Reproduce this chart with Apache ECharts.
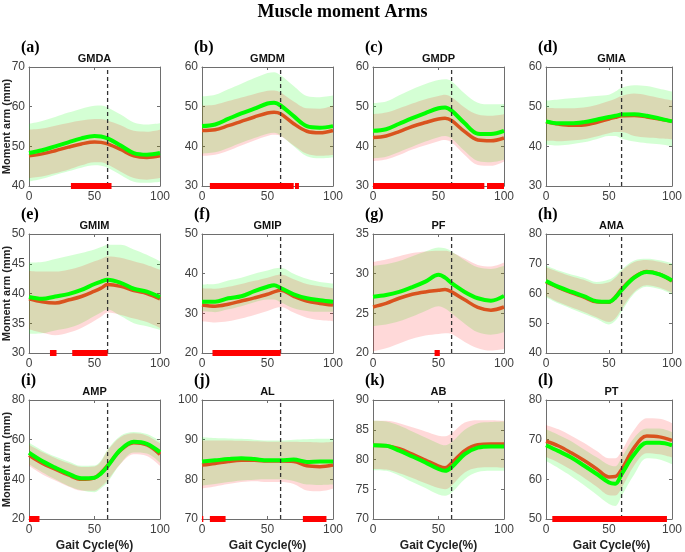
<!DOCTYPE html>
<html><head><meta charset="utf-8">
<script src="https://cdn.jsdelivr.net/npm/echarts@6/dist/echarts.min.js"></script>
<style>html,body{margin:0;padding:0;background:#fff}#c{width:685px;height:552px}</style>
</head><body><div id="c"></div>
<script>
// ---------------- DATA ----------------
const mainTitle = 'Muscle moment Arms';
const xs = [0, 10, 20, 30, 40, 50, 55, 60, 70, 80, 90, 100];
const panelTitles = ['GMDA','GMDM','GMDP','GMIA','GMIM','GMIP','PF','AMA','AMP','AL','AB','PT'];
const panelLabels = ['(a)','(b)','(c)','(d)','(e)','(f)','(g)','(h)','(i)','(j)','(k)','(l)'];
const yMin  = [40, 30, 30, 30, 30, 20, 20, 40, 20, 70, 70, 50];
const yMax  = [70, 60, 60, 60, 50, 50, 35, 80, 80, 100, 90, 80];
const yStep = [10, 10, 10, 10, 5, 10, 5, 10, 20, 10, 5, 10];
const stanceEnd = 60;

const greenMean = [
  [48.3, 49.0, 50.0, 51.0, 52.0, 52.6, 52.5, 52.0, 50.2, 48.3, 47.9, 48.3],
  [45.1, 45.5, 46.9, 48.3, 49.5, 50.8, 51.0, 50.3, 47.6, 45.1, 44.7, 45.1],
  [43.9, 44.3, 45.7, 47.1, 48.4, 49.6, 49.8, 49.0, 45.8, 43.2, 43.1, 43.9],
  [46.3, 45.8, 45.8, 46.1, 46.7, 47.4, 47.7, 48.0, 48.1, 47.7, 47.0, 46.3],
  [39.4, 39.1, 39.5, 39.9, 40.6, 41.6, 42.0, 42.3, 41.8, 40.8, 40.3, 39.4],
  [32.9, 32.9, 33.8, 34.3, 35.6, 36.7, 37.1, 36.4, 34.8, 33.8, 33.3, 32.9],
  [27.1, 27.3, 27.7, 28.3, 29.0, 29.85, 29.5, 28.8, 27.7, 26.9, 26.6, 27.2],
  [64.2, 62.2, 60.6, 59.1, 57.4, 57.2, 58.6, 61.1, 65.3, 67.2, 66.4, 64.4],
  [53.4, 49.2, 45.9, 42.9, 40.5, 40.8, 43.0, 46.6, 55.0, 58.9, 57.9, 53.7],
  [84.5, 84.8, 85.1, 85.3, 85.1, 84.8, 84.8, 84.8, 85.0, 84.4, 84.5, 84.5],
  [82.4, 82.3, 81.5, 80.5, 79.5, 78.4, 78.1, 78.7, 80.9, 82.0, 82.2, 82.2],
  [68.6, 67.1, 65.5, 63.5, 61.4, 59.2, 58.9, 61.3, 66.3, 69.2, 69.2, 68.6]
];
const redMean = [
  [47.6, 48.1, 48.9, 49.8, 50.6, 51.1, 51.0, 50.6, 49.2, 47.6, 47.2, 47.6],
  [44.0, 44.2, 45.2, 46.3, 47.4, 48.4, 48.6, 48.2, 45.7, 43.8, 43.4, 44.0],
  [42.2, 42.6, 43.7, 45.0, 46.0, 46.9, 47.1, 46.5, 43.7, 41.6, 41.4, 42.1],
  [46.2, 45.6, 45.3, 45.4, 46.0, 46.9, 47.3, 47.7, 47.8, 47.4, 46.9, 46.3],
  [39.1, 38.6, 38.4, 38.9, 39.5, 40.4, 40.9, 41.5, 41.2, 40.5, 40.0, 39.1],
  [32.1, 31.8, 32.3, 33.1, 33.9, 34.8, 35.4, 35.8, 34.3, 33.1, 32.5, 32.1],
  [25.8, 26.25, 26.9, 27.4, 27.7, 27.9, 28.0, 27.7, 26.7, 25.75, 25.4, 25.8],
  [63.9, 62.0, 60.3, 58.8, 57.2, 57.1, 58.8, 61.5, 65.5, 67.4, 66.5, 64.2],
  [52.1, 48.1, 45.1, 42.2, 40.0, 40.8, 43.3, 47.0, 54.7, 58.4, 57.3, 52.6],
  [83.6, 84.0, 84.5, 84.8, 84.8, 84.6, 84.6, 84.6, 84.5, 83.4, 83.2, 83.6],
  [82.4, 82.3, 81.8, 80.9, 79.9, 78.9, 78.6, 79.4, 81.5, 82.5, 82.6, 82.6],
  [69.6, 68.4, 66.7, 64.8, 62.7, 60.6, 60.7, 62.5, 68.0, 70.9, 70.7, 69.8]
];
const greenHi = [
  [55.7, 56.4, 57.4, 58.5, 59.5, 60.2, 60.3, 59.8, 58.0, 56.0, 55.5, 55.8],
  [52.6, 53.0, 54.4, 55.8, 57.2, 58.5, 58.7, 57.9, 55.2, 52.7, 52.4, 52.8],
  [50.9, 51.3, 52.9, 54.4, 55.7, 56.7, 56.9, 56.4, 53.3, 51.0, 50.6, 50.7],
  [51.5, 51.8, 52.1, 52.4, 52.7, 53.0, 53.8, 54.8, 55.4, 55.2, 54.5, 53.8],
  [45.2, 45.3, 45.8, 46.3, 46.8, 47.4, 47.8, 48.2, 48.2, 47.4, 46.5, 45.4],
  [37.3, 37.4, 38.3, 39.0, 40.0, 40.8, 41.3, 41.5, 40.0, 38.7, 37.9, 37.5],
  [31.0, 31.2, 31.6, 32.2, 32.8, 33.3, 33.2, 32.8, 31.7, 30.8, 30.6, 31.0],
  [69.4, 67.7, 66.4, 65.3, 63.9, 64.7, 66.0, 68.1, 71.1, 71.7, 71.2, 70.2],
  [58.4, 54.6, 51.5, 49.0, 46.8, 47.0, 49.5, 55.0, 62.0, 63.9, 62.8, 59.3],
  [90.6, 90.4, 90.3, 90.2, 90.0, 89.8, 89.8, 89.8, 90.0, 90.1, 90.2, 90.2],
  [86.5, 86.4, 85.7, 84.7, 83.7, 82.7, 82.4, 82.9, 85.0, 86.1, 86.3, 86.4],
  [72.6, 71.2, 69.6, 67.6, 65.6, 63.6, 63.3, 65.5, 70.5, 72.8, 72.8, 71.9]
];
const greenLo = [
  [41.1, 41.8, 42.8, 43.7, 44.6, 45.2, 45.1, 44.6, 42.8, 41.1, 40.8, 41.1],
  [38.2, 38.5, 39.6, 40.9, 42.1, 43.2, 43.4, 42.7, 40.0, 37.5, 37.0, 37.2],
  [37.0, 37.4, 38.6, 39.9, 41.2, 42.3, 42.6, 42.0, 38.8, 36.3, 36.0, 36.6],
  [40.4, 40.2, 40.5, 41.0, 41.8, 42.6, 42.6, 42.0, 41.2, 40.8, 40.5, 40.0],
  [33.2, 33.3, 33.8, 34.2, 35.0, 36.2, 36.8, 37.3, 36.2, 35.0, 34.5, 33.9],
  [30.5, 30.3, 31.0, 31.8, 32.8, 33.5, 33.5, 32.8, 31.3, 30.6, 30.4, 30.4],
  [23.4, 23.6, 24.0, 24.6, 25.3, 25.9, 25.6, 25.0, 23.7, 22.6, 22.3, 22.6],
  [58.7, 56.6, 54.9, 53.2, 51.5, 49.6, 50.8, 53.9, 60.0, 62.3, 61.5, 59.8],
  [47.6, 43.6, 40.0, 36.7, 34.5, 33.5, 35.5, 38.5, 48.0, 53.5, 53.0, 48.3],
  [78.4, 78.8, 79.3, 79.7, 79.9, 80.0, 80.0, 80.0, 79.6, 78.7, 78.6, 78.7],
  [78.2, 78.1, 77.3, 76.2, 75.2, 74.1, 73.9, 74.4, 76.7, 77.9, 78.1, 78.1],
  [64.6, 62.8, 60.8, 58.6, 56.2, 53.8, 53.3, 55.8, 61.2, 65.3, 65.0, 63.8]
];
const redHi = [
  [54.2, 54.5, 55.2, 55.9, 56.5, 56.9, 56.9, 56.5, 55.3, 53.9, 53.7, 54.2],
  [50.3, 50.5, 51.4, 52.3, 53.2, 54.0, 54.1, 53.6, 51.3, 49.6, 49.5, 50.3],
  [48.1, 48.5, 49.6, 50.8, 51.9, 52.7, 53.0, 52.4, 49.8, 48.0, 47.7, 48.1],
  [49.8, 49.6, 49.6, 49.8, 50.4, 51.4, 52.0, 52.7, 53.3, 52.9, 52.2, 51.6],
  [43.8, 43.7, 43.7, 44.0, 44.6, 45.4, 45.8, 46.2, 46.0, 45.4, 44.8, 44.0],
  [36.3, 36.2, 36.7, 37.4, 38.2, 39.0, 39.5, 39.8, 38.6, 37.4, 36.8, 36.3],
  [31.5, 31.8, 32.2, 32.6, 32.8, 32.9, 32.9, 32.7, 31.9, 31.1, 30.9, 31.4],
  [68.8, 67.2, 65.8, 64.6, 63.2, 63.8, 65.3, 67.6, 70.6, 71.3, 70.7, 69.6],
  [57.4, 53.8, 50.8, 48.2, 46.2, 46.5, 49.0, 54.5, 61.3, 63.2, 62.0, 58.2],
  [89.8, 89.8, 89.8, 89.7, 89.6, 89.5, 89.5, 89.5, 89.5, 89.4, 89.3, 89.5],
  [86.5, 86.5, 86.1, 85.4, 84.7, 84.0, 83.9, 84.4, 86.2, 86.6, 86.6, 86.5],
  [73.7, 72.6, 71.0, 69.2, 67.2, 65.3, 65.3, 67.2, 72.5, 75.4, 75.3, 74.2]
];
const redLo = [
  [42.0, 42.4, 43.2, 44.1, 45.2, 46.0, 46.0, 45.4, 43.6, 42.0, 41.6, 42.0],
  [37.6, 37.9, 38.9, 40.2, 41.5, 42.6, 42.9, 42.6, 40.2, 38.1, 37.6, 37.8],
  [36.3, 36.7, 37.8, 39.2, 40.3, 41.3, 41.6, 41.0, 37.8, 35.3, 35.1, 36.2],
  [41.4, 41.3, 41.5, 41.8, 42.5, 43.3, 43.6, 43.6, 42.6, 42.2, 42.0, 41.8],
  [34.0, 33.4, 33.0, 33.4, 34.2, 35.4, 36.1, 36.8, 36.4, 35.8, 35.2, 34.2],
  [28.0, 27.7, 28.0, 28.7, 29.6, 30.6, 31.2, 31.6, 30.2, 28.9, 28.3, 28.0],
  [20.2, 20.6, 21.2, 21.8, 22.2, 22.4, 22.5, 22.4, 21.4, 20.6, 20.3, 20.5],
  [59.2, 57.1, 55.4, 53.8, 52.0, 50.4, 51.6, 54.8, 60.5, 62.8, 62.0, 60.2],
  [46.8, 42.6, 39.4, 36.4, 34.3, 34.2, 36.2, 39.5, 47.8, 52.6, 51.8, 46.8],
  [77.7, 78.2, 78.8, 79.3, 79.5, 79.3, 79.3, 79.3, 78.8, 77.2, 77.0, 77.6],
  [78.4, 78.3, 77.7, 76.9, 76.0, 75.2, 75.0, 75.6, 77.8, 78.6, 78.7, 78.6],
  [65.6, 64.2, 62.4, 60.4, 58.2, 56.0, 55.9, 57.8, 63.5, 66.6, 66.3, 65.5]
];
// significant regions (% gait cycle)
const sigRanges = [
  [[32, 63]],
  [[6, 70], [71, 74]],
  [[0, 85], [87, 100]],
  [],
  [[16, 21], [33, 60]],
  [[8, 60]],
  [[47, 51]],
  [],
  [[0, 8]],
  [[0, 1], [6, 18], [77, 95]],
  [],
  [[5, 96]]
];
const yAxisName = 'Moment arm (mm)';
const xAxisName = 'Gait Cycle(%)';

// ---------------- LAYOUT / STYLE ----------------
const colLeft = [29, 202, 373, 546];
const rowTop = [67, 234, 400];
const gw = 131, gh = 119;
const axisColor = '#6e6e6e';
const sans = 'Liberation Sans, Arial, sans-serif';
const serif = 'Liberation Serif, Times New Roman, serif';
const GREEN = '#00ff00', RED = '#d9531e', SIG = '#ff0000';
const GREEN_BAND = 'rgba(0,255,0,0.17)', RED_BAND = 'rgba(255,0,0,0.15)';

const grids = [], xAxes = [], yAxes = [], series = [], graphics = [];

graphics.push({type:'text', x:342.5, y:12, style:{text:mainTitle, font:'bold 18px ' + serif, fill:'#000', textAlign:'center', textVerticalAlign:'middle'}});

panelTitles.forEach((t, i) => {
  const r = Math.floor(i / 4), c = i % 4;
  const L = colLeft[c], T = rowTop[r];
  grids.push({left: L, top: T, width: gw, height: gh, show: false});
  const tick = {show: true, inside: true, length: 3, lineStyle: {color: axisColor, width: 1}};
  const line = {show: true, onZero: false, lineStyle: {color: axisColor, width: 1}};
  xAxes.push({type:'value', gridIndex:i, position:'bottom', min:0, max:100, interval:50,
    axisLine: line, axisTick: tick, splitLine:{show:false},
    axisLabel:{fontSize:12, color:'#404040', margin:5, fontFamily:sans}});
  xAxes.push({type:'value', gridIndex:i, position:'top', min:0, max:100, interval:50,
    axisLine: line, axisTick: tick, splitLine:{show:false}, axisLabel:{show:false}});
  yAxes.push({type:'value', gridIndex:i, position:'left', min:yMin[i], max:yMax[i], interval:yStep[i],
    axisLine: line, axisTick: tick, splitLine:{show:false},
    axisLabel:{fontSize:12, color:'#404040', margin:4, fontFamily:sans}});
  yAxes.push({type:'value', gridIndex:i, position:'right', min:yMin[i], max:yMax[i], interval:yStep[i],
    axisLine: line, axisTick: tick, splitLine:{show:false}, axisLabel:{show:false}});

  const xi = 2 * i, yi = 2 * i;
  const base = {type:'line', xAxisIndex: xi, yAxisIndex: yi, symbol:'none', smooth:0.35, silent:true, animation:false};
  // bands: data stored as [y, x] with encode so that the stacked dimension is y
  const band = Object.assign({}, base, {encode:{x:1, y:0}, lineStyle:{opacity:0, width:0}, z:1});
  series.push(Object.assign({}, band, {stack:'g' + i, data: xs.map((x, k) => [greenLo[i][k], x])}));
  series.push(Object.assign({}, band, {stack:'g' + i, data: xs.map((x, k) => [greenHi[i][k] - greenLo[i][k], x]), areaStyle:{color:GREEN_BAND, opacity:1}}));
  series.push(Object.assign({}, band, {stack:'r' + i, data: xs.map((x, k) => [redLo[i][k], x])}));
  series.push(Object.assign({}, band, {stack:'r' + i, data: xs.map((x, k) => [redHi[i][k] - redLo[i][k], x]), areaStyle:{color:RED_BAND, opacity:1}}));
  // mean lines
  series.push(Object.assign({}, base, {data: xs.map((x, k) => [x, redMean[i][k]]), lineStyle:{color:RED, width:3.5}, z:3}));
  series.push(Object.assign({}, base, {data: xs.map((x, k) => [x, greenMean[i][k]]), lineStyle:{color:GREEN, width:4}, z:4}));
  // stance/swing divider
  series.push(Object.assign({}, base, {smooth:false, data: [[stanceEnd, yMin[i]], [stanceEnd, yMax[i]]], lineStyle:{color:'#333', width:1.3, type:[4, 3]}, z:5}));
  // significance bars
  sigRanges[i].forEach(([s, e]) => {
    series.push(Object.assign({}, base, {smooth:false, clip:false, data: [[s, yMin[i]], [e, yMin[i]]], lineStyle:{color:SIG, width:6, cap:'butt'}, z:6}));
  });

  // texts
  graphics.push({type:'text', x: L - 8, y: T - 19.5, style:{text: panelLabels[i], font:'bold 16px ' + serif, fill:'#000', textAlign:'left', textVerticalAlign:'middle'}});
  graphics.push({type:'text', x: L + gw / 2, y: T - 8.5, style:{text: t, font:'bold 11px ' + sans, fill:'#111', textAlign:'center', textVerticalAlign:'middle'}});
  if (c === 0) {
    graphics.push({type:'text', x: 7, y: T + gh / 2, rotation: Math.PI / 2, style:{text: yAxisName, font:'bold 11px ' + sans, fill:'#222', textAlign:'center', textVerticalAlign:'middle'}});
  }
  if (r === 2) {
    graphics.push({type:'text', x: L + gw / 2, y: 546, style:{text: xAxisName, font:'bold 12px ' + sans, fill:'#222', textAlign:'center', textVerticalAlign:'middle'}});
  }
});

const chart = echarts.init(document.getElementById('c'), null, {renderer:'canvas'});
chart.setOption({
  animation: false,
  backgroundColor: '#fff',
  grid: grids,
  xAxis: xAxes,
  yAxis: yAxes,
  series: series,
  graphic: graphics
});
</script></body></html>
